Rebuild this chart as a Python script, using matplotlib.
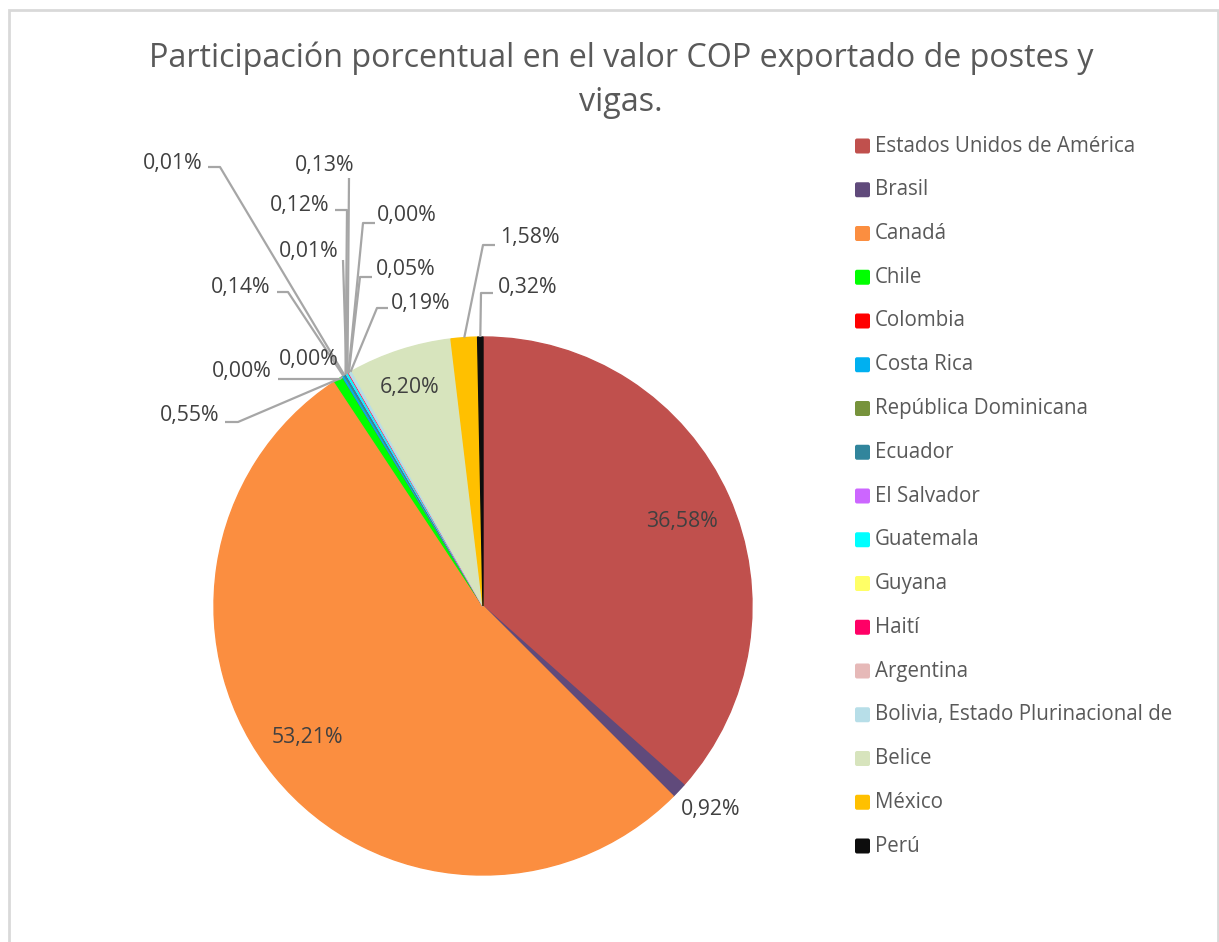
import matplotlib
matplotlib.use('Agg')
import matplotlib.pyplot as plt
from matplotlib.patches import Rectangle, FancyBboxPatch
import numpy as np

W, H = 1219, 942

countries = ['Estados Unidos de América', 'Brasil', 'Canadá', 'Chile', 'Colombia',
             'Costa Rica', 'República Dominicana', 'Ecuador', 'El Salvador',
             'Guatemala', 'Guyana', 'Haití', 'Argentina',
             'Bolivia, Estado Plurinacional de', 'Belice', 'México', 'Perú']
shares = [36.58, 0.92, 53.21, 0.55, 0.00, 0.14, 0.01, 0.12, 0.01,
          0.13, 0.00, 0.05, 0.00, 0.19, 6.20, 1.58, 0.32]
colors = ['#C0504D', '#604A7B', '#FB8E40', '#00FF00', '#FF0000', '#00B0F0',
          '#77933C', '#31859C', '#CC66FF', '#00FFFF', '#FFFF66', '#FF0066',
          '#E6B9B8', '#B7DEE8', '#D7E4BD', '#FFC000', '#0D0D0D']

title_lines = ['Participación porcentual en el valor COP exportado de postes y', 'vigas.']

# label placement in picture pixels: (x, y, ha, leader elbow points or None)
label_layout = [
  (682, 522, 'center', None),
  (711, 810, 'center', None),
  (307, 737, 'center', None),
  (219, 415, 'right', [(238, 422), (225, 422)]),
  (272, 372, 'right', [(340, 379), (278, 379)]),
  (270, 287, 'right', [(288, 292), (277, 292)]),
  (203, 163, 'right', [(220, 167), (208, 167)]),
  (329, 205, 'right', [(347, 210), (335, 210)]),
  (338, 252, 'right', [(343, 260)]),
  (325, 165, 'center', [(349, 178)]),
  (377, 216, 'left', [(363, 223), (375, 223)]),
  (376, 270, 'left', [(360, 277), (372, 277)]),
  (309, 359, 'center', None),
  (391, 303, 'left', [(377, 308), (388, 308)]),
  (410, 387, 'center', None),
  (500, 238, 'left', [(483, 245), (495, 245)]),
  (498, 287, 'left', [(481, 293), (493, 293)]),
]

FONT = ['Open Sans', 'DejaVu Sans']
plt.rcParams['font.family'] = FONT


def Y(y):
  return H - y


def fmt(v):
  return f'{v:.2f}'.replace('.', ',') + '%'


def main():
  fig = plt.figure(figsize=(W / 100, H / 100), dpi=100)
  ax = fig.add_axes([0, 0, 1, 1])

  cx, cy, r = 483, Y(606), 269
  wedges, _ = ax.pie(shares, colors=colors, startangle=90, counterclock=False,
                     center=(cx, cy), radius=r, wedgeprops=dict(linewidth=1.0))
  for w in wedges:
    w.set_edgecolor(w.get_facecolor())
  ax.set_xlim(0, W)
  ax.set_ylim(0, H)
  ax.set_aspect('auto')
  ax.axis('off')

  # chart frame
  ax.add_patch(Rectangle((9, Y(1000)), 1209, 990, fill=False, edgecolor='#D9D9D9', lw=2, clip_on=False))

  for w, v, (tx, ty, ha, elbow) in zip(wedges, shares, label_layout):
    if elbow is not None:
      mid = np.deg2rad((w.theta1 + w.theta2) / 2)
      pts = [(cx + r * np.cos(mid), cy + r * np.sin(mid))] + [(x, Y(y)) for x, y in elbow]
      xs, ys = zip(*pts)
      ax.plot(xs, ys, color='#A6A6A6', lw=1.6, solid_capstyle='butt')
    ax.text(tx, Y(ty), fmt(v), ha=ha, va='center', fontsize=15.3, color='#404040')

  ax.text(621, Y(67), title_lines[0], ha='center', va='baseline', fontsize=23.2, color='#595959')
  ax.text(621, Y(111), title_lines[1], ha='center', va='baseline', fontsize=23.2, color='#595959')

  for i, (name, c) in enumerate(zip(countries, colors)):
    yy = 146 + i * 43.75
    ax.add_patch(FancyBboxPatch((855, Y(yy) - 7.5), 15, 15, boxstyle='round,pad=0,rounding_size=2',
                                facecolor=c, edgecolor='none'))
    ax.text(875, Y(yy), name, ha='left', va='center', fontsize=14.8, color='#595959')

  fig.savefig('out.png', dpi=100)


if __name__ == '__main__':
  main()
